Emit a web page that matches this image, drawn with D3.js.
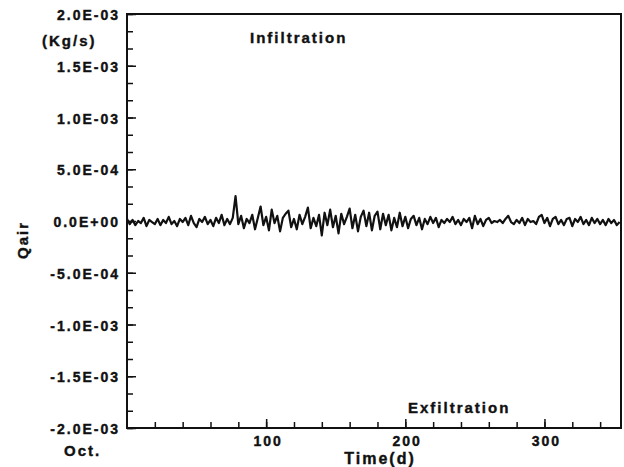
<!DOCTYPE html>
<html>
<head>
<meta charset="utf-8">
<script src="https://cdn.jsdelivr.net/npm/d3@7"></script>
<style>
  body { margin: 0; background: #fff; }
  text { font-family: "Liberation Sans", Arial, sans-serif; font-weight: bold; fill: #111; stroke: #111; stroke-width: 0.4px; letter-spacing: 2px; }
</style>
</head>
<body>
<svg id="drawing_region"></svg>
<script>
// air flow, every 2 days from Oct. 1, in units of 1E-05 kg/s
const dayStep = 2;
const qair = [
   2, -3,  1, -4,  0, -2,  3, -5,  1, -1,
  -3,  2, -4,  1, -2,  4, -3,  0, -5,  2,
  -1,  3, -4,  5, -2, -6,  2, -1,  4, -3,
   1, -5,  3, -2,  6, -4,  2, -3,  3, 24,
  -3,  5, -7,  2, -2,  6, -8,  3, 14, -4,
   4, -9, 11, -2,  5,-10,  3,  7, 10, -6,
   2, -8,  6, -3,  4, 13, -7,  3, -5,  6,
 -14,  8, -4, 11, -6,  5,-12,  7, -3,  4,
  12, -7,  6,-10,  4, 10, -5,  8, -9,  5,
   9, -8,  7, -4,  6, -9,  3, -6,  8, -5,
   4, -7,  2,  5, -4,  3, -8,  2, -3,  4,
  -2,  3, -6,  1, -2,  2, -1,  4, -3,  1,
  -4,  2, -1,  3, -7,  5, -3,  2, -5,  1,
   3, -2,  0, -1,  1, -2,  2,  5, -1, -3,
   1, -2,  3, -4,  2, -1,  0, -3,  4,  6,
  -2,  3, -5,  2,  4, -3,  1, -4,  2,  3,
  -5,  2, -1,  4, -3,  1, -4,  3, -2,  2,
  -3,  1, -4,  2, -2,  1, -4, -1
];

const yTickValues = [2.0e-3, 1.5e-3, 1.0e-3, 5.0e-4, 0, -5.0e-4, -1.0e-3, -1.5e-3, -2.0e-3];
const yTickLabels = ["2.0E-03", "1.5E-03", "1.0E-03", "5.0E-04", "0.0E+00", "-5.0E-04", "-1.0E-03", "-1.5E-03", "-2.0E-03"];
const xTickValues = [100, 200, 300];
const xTickLabels = ["100", "200", "300"];

const config = {
    width: 624,
    height: 467,
    margin: {top: 14, right: 3, bottom: 39, left: 127}
};

const data = qair.map((v, i) => ({ day: i * dayStep, q: v * 1e-5 }));

const svg = d3.select('#drawing_region')
    .attr('width', config.width)
    .attr('height', config.height);

const iw = config.width - config.margin.left - config.margin.right;
const ih = config.height - config.margin.top - config.margin.bottom;

const g = svg.append('g')
    .attr('transform', `translate(${config.margin.left}, ${config.margin.top})`);

const xscale = d3.scaleLinear().domain([0, 355]).range([0, iw]);
const yscale = d3.scaleLinear().domain([-2e-3, 2e-3]).range([ih, 0]);

// frame
g.append('rect')
    .attr('x', 0).attr('y', 0)
    .attr('width', iw).attr('height', ih)
    .attr('fill', 'none')
    .attr('stroke', '#111')
    .attr('stroke-width', 2);

// minor ticks
const yMinor = d3.range(-12, 13).map(i => i * 5e-4 / 3);
g.append('g')
    .call(d3.axisLeft(yscale).tickValues(yMinor).tickSizeInner(-6).tickSizeOuter(0).tickFormat(''))
    .call(a => a.select('.domain').remove());
g.append('g')
    .attr('transform', `translate(0, ${ih})`)
    .call(d3.axisBottom(xscale).tickValues(d3.range(20, 355, 20)).tickSizeInner(-6).tickSizeOuter(0).tickFormat(''))
    .call(a => a.select('.domain').remove());

// major ticks and labels
const yaxis = g.append('g')
    .call(d3.axisLeft(yscale)
        .tickValues(yTickValues)
        .tickSizeInner(-9).tickSizeOuter(0).tickPadding(7)
        .tickFormat((d, i) => yTickLabels[i]));
yaxis.select('.domain').remove();
yaxis.selectAll('text').attr('font-size', 14).attr('dy', '0.4em');

const xaxis = g.append('g')
    .attr('transform', `translate(0, ${ih})`)
    .call(d3.axisBottom(xscale)
        .tickValues(xTickValues)
        .tickSizeInner(-9).tickSizeOuter(0).tickPadding(8)
        .tickFormat((d, i) => xTickLabels[i]));
xaxis.select('.domain').remove();
xaxis.selectAll('text').attr('font-size', 14).attr('dx', '0.1em');

g.selectAll('.tick line').attr('stroke', '#111').attr('stroke-width', 1.5);

// series
const line = d3.line()
    .x(d => xscale(d.day))
    .y(d => yscale(d.q));

g.append('path')
    .datum(data)
    .attr('d', line)
    .attr('fill', 'none')
    .attr('stroke', '#111')
    .attr('stroke-width', 2.2)
    .attr('stroke-linejoin', 'round');

// texts
svg.append('text')
    .attr('x', 42).attr('y', 46)
    .attr('font-size', 15)
    .text('(Kg/s)');

svg.append('text')
    .attr('x', 250).attr('y', 43)
    .attr('font-size', 15)
    .text('Infiltration');

svg.append('text')
    .attr('x', 408).attr('y', 413)
    .attr('font-size', 15)
    .text('Exfiltration');

svg.append('text')
    .attr('x', 64).attr('y', 456)
    .attr('font-size', 15)
    .text('Oct.');

svg.append('text')
    .attr('x', 380).attr('y', 464)
    .attr('text-anchor', 'middle')
    .attr('font-size', 16)
    .text('Time(d)');

svg.append('text')
    .attr('transform', 'translate(28, 240) rotate(-90)')
    .attr('text-anchor', 'middle')
    .attr('font-size', 15)
    .text('Qair');
</script>
</body>
</html>
